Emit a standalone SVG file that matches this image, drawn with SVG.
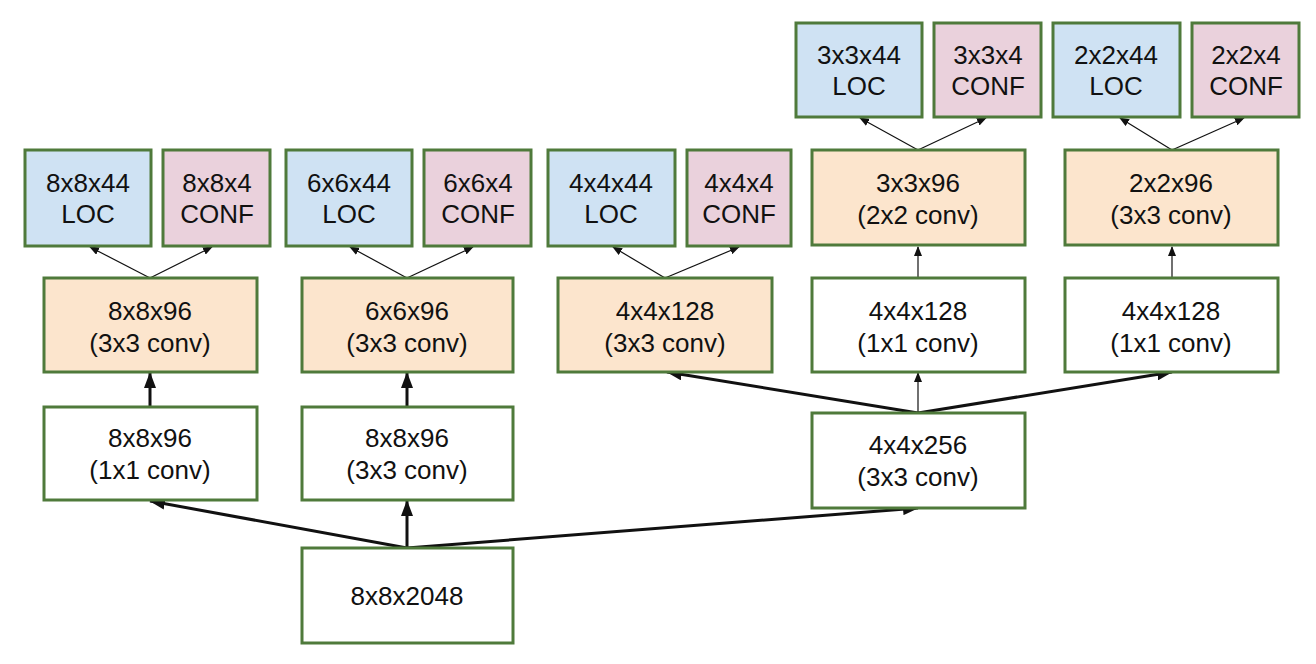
<svg xmlns="http://www.w3.org/2000/svg" width="1316" height="664" viewBox="0 0 1316 664">
<style>
.b{stroke:#4f7a3b;stroke-width:3}
.w{fill:#ffffff}
.o{fill:#fce5cd}
.l{fill:#cfe2f3}
.c{fill:#ead1dc}
text{font-family:"Liberation Sans",Arial,sans-serif;font-size:26px;fill:#111;text-anchor:middle}
.t{stroke:#111;stroke-width:1.2;fill:none}
.k{stroke:#111;stroke-width:3;fill:none}
</style>
<defs>
<marker id="ah" markerUnits="userSpaceOnUse" markerWidth="10" markerHeight="8" refX="9" refY="4" orient="auto"><path d="M0,0 L10,4 L0,8 z" fill="#111"/></marker>
<marker id="ak" markerUnits="userSpaceOnUse" markerWidth="16" markerHeight="12" refX="15" refY="6" orient="auto"><path d="M0,0 L16,6 L0,12 z" fill="#111"/></marker>
</defs>
<rect width="1316" height="664" fill="#ffffff"/>
<g id="connectors">
<line class="t" x1="150" y1="278" x2="90" y2="247" marker-end="url(#ah)"/>
<line class="t" x1="150" y1="278" x2="212" y2="247" marker-end="url(#ah)"/>
<line class="t" x1="407" y1="278" x2="350" y2="247" marker-end="url(#ah)"/>
<line class="t" x1="407" y1="278" x2="473" y2="247" marker-end="url(#ah)"/>
<line class="t" x1="665" y1="278" x2="613" y2="247" marker-end="url(#ah)"/>
<line class="t" x1="665" y1="278" x2="739" y2="247" marker-end="url(#ah)"/>
<line class="t" x1="918" y1="150" x2="860" y2="118" marker-end="url(#ah)"/>
<line class="t" x1="918" y1="150" x2="986" y2="118" marker-end="url(#ah)"/>
<line class="t" x1="1172" y1="150" x2="1120" y2="118" marker-end="url(#ah)"/>
<line class="t" x1="1172" y1="150" x2="1244" y2="118" marker-end="url(#ah)"/>
<line class="t" x1="918" y1="278" x2="918" y2="247" marker-end="url(#ah)"/>
<line class="t" x1="1172" y1="278" x2="1172" y2="247" marker-end="url(#ah)"/>
<line class="t" x1="918" y1="413" x2="918" y2="373" marker-end="url(#ah)"/>
<line class="k" x1="150" y1="406" x2="150" y2="373" marker-end="url(#ak)"/>
<line class="k" x1="407" y1="406" x2="407" y2="373" marker-end="url(#ak)"/>
<line class="k" x1="407" y1="548" x2="407" y2="501" marker-end="url(#ak)"/>
<line class="k" x1="407" y1="548" x2="150" y2="501" marker-end="url(#ak)"/>
<line class="k" x1="407" y1="548" x2="918" y2="508" marker-end="url(#ak)"/>
<line class="k" x1="918" y1="413" x2="667" y2="372" marker-end="url(#ak)"/>
<line class="k" x1="918" y1="413" x2="1172" y2="372" marker-end="url(#ak)"/>
</g>
<g id="n_8x8x44"><rect class="b l" x="25" y="150" width="126" height="96"/><text x="88" y="192">8x8x44</text><text x="88" y="223">LOC</text></g>
<g id="n_8x8x4"><rect class="b c" x="163" y="150" width="107" height="96"/><text x="217" y="192">8x8x4</text><text x="217" y="223">CONF</text></g>
<g id="n_6x6x44"><rect class="b l" x="286" y="150" width="126" height="96"/><text x="349" y="192">6x6x44</text><text x="349" y="223">LOC</text></g>
<g id="n_6x6x4"><rect class="b c" x="424" y="150" width="107" height="96"/><text x="478" y="192">6x6x4</text><text x="478" y="223">CONF</text></g>
<g id="n_4x4x44"><rect class="b l" x="548" y="150" width="127" height="96"/><text x="611" y="192">4x4x44</text><text x="611" y="223">LOC</text></g>
<g id="n_4x4x4"><rect class="b c" x="687" y="150" width="104" height="96"/><text x="739" y="192">4x4x4</text><text x="739" y="223">CONF</text></g>
<g id="n_3x3x44"><rect class="b l" x="796" y="23" width="126" height="94"/><text x="859" y="64">3x3x44</text><text x="859" y="95">LOC</text></g>
<g id="n_3x3x4"><rect class="b c" x="934" y="23" width="107" height="94"/><text x="988" y="64">3x3x4</text><text x="988" y="95">CONF</text></g>
<g id="n_2x2x44"><rect class="b l" x="1053" y="23" width="127" height="94"/><text x="1116" y="64">2x2x44</text><text x="1116" y="95">LOC</text></g>
<g id="n_2x2x4"><rect class="b c" x="1192" y="23" width="107" height="94"/><text x="1246" y="64">2x2x4</text><text x="1246" y="95">CONF</text></g>
<g id="n_3x3x96"><rect class="b o" x="812" y="150" width="213" height="95"/><text x="918" y="192">3x3x96</text><text x="918" y="224">(2x2 conv)</text></g>
<g id="n_2x2x96"><rect class="b o" x="1065" y="150" width="213" height="95"/><text x="1171" y="192">2x2x96</text><text x="1171" y="224">(3x3 conv)</text></g>
<g id="n_8x8x96a"><rect class="b o" x="44" y="278" width="213" height="94"/><text x="150" y="320">8x8x96</text><text x="150" y="352">(3x3 conv)</text></g>
<g id="n_6x6x96"><rect class="b o" x="302" y="278" width="211" height="94"/><text x="407" y="320">6x6x96</text><text x="407" y="352">(3x3 conv)</text></g>
<g id="n_4x4x128a"><rect class="b o" x="558" y="278" width="214" height="94"/><text x="665" y="320">4x4x128</text><text x="665" y="352">(3x3 conv)</text></g>
<g id="n_4x4x128b"><rect class="b w" x="812" y="278" width="213" height="94"/><text x="918" y="320">4x4x128</text><text x="918" y="352">(1x1 conv)</text></g>
<g id="n_4x4x128c"><rect class="b w" x="1065" y="278" width="213" height="94"/><text x="1171" y="320">4x4x128</text><text x="1171" y="352">(1x1 conv)</text></g>
<g id="n_8x8x96b"><rect class="b w" x="44" y="407" width="213" height="93"/><text x="150" y="447">8x8x96</text><text x="150" y="479">(1x1 conv)</text></g>
<g id="n_8x8x96c"><rect class="b w" x="302" y="407" width="211" height="93"/><text x="407" y="447">8x8x96</text><text x="407" y="479">(3x3 conv)</text></g>
<g id="n_4x4x256"><rect class="b w" x="812" y="413" width="213" height="95"/><text x="918" y="454">4x4x256</text><text x="918" y="486">(3x3 conv)</text></g>
<g id="n_8x8x2048"><rect class="b w" x="302" y="548" width="211" height="95"/><text x="407" y="605">8x8x2048</text></g>
</svg>
